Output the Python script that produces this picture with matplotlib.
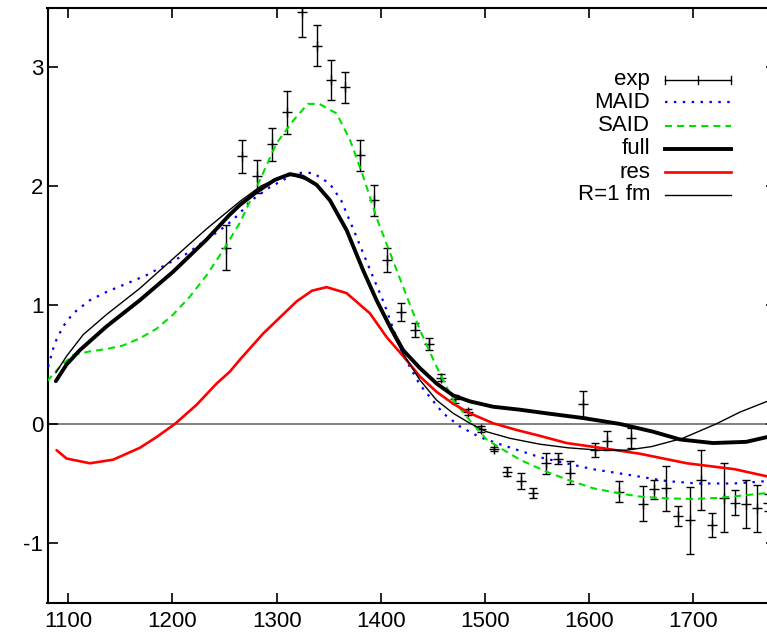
import matplotlib
matplotlib.use("Agg")
import matplotlib.pyplot as plt

plt.rcParams['font.family'] = ['Liberation Sans', 'DejaVu Sans']

# experimental points
exp_x = [1251.3, 1266.4, 1281.1, 1295.2, 1309.9, 1324.0, 1338.4, 1352.4, 1365.9, 1379.7,
         1393.2, 1406.2, 1419.4, 1432.9, 1446.0, 1457.8, 1471.3, 1483.5, 1496.3, 1509.0,
         1520.9, 1534.4, 1545.9, 1558.4, 1570.2, 1581.7, 1594.0, 1606.1, 1617.0, 1628.8,
         1640.3, 1651.6, 1662.7, 1674.3, 1685.8, 1696.7, 1707.6, 1718.4, 1729.7, 1740.5,
         1750.8, 1761.4, 1772.0]
exp_y = [1.48, 2.25, 2.08, 2.35, 2.62, 3.46, 3.18, 2.89, 2.83, 2.26,
         1.88, 1.38, 0.94, 0.79, 0.67, 0.39, 0.21, 0.10, -0.04, -0.21,
         -0.40, -0.48, -0.58, -0.33, -0.29, -0.41, 0.17, -0.22, -0.14, -0.57,
         -0.12, -0.67, -0.55, -0.54, -0.77, -0.81, -0.47, -0.85, -0.62, -0.66,
         -0.67, -0.71, -0.66]
exp_err = [0.19, 0.14, 0.14, 0.14, 0.18, 0.21, 0.17, 0.17, 0.13, 0.13,
           0.13, 0.10, 0.076, 0.056, 0.05, 0.03, 0.03, 0.025, 0.025, 0.02,
           0.036, 0.07, 0.04, 0.09, 0.05, 0.095, 0.11, 0.06, 0.08, 0.087,
           0.084, 0.147, 0.077, 0.19, 0.084, 0.28, 0.25, 0.10, 0.29, 0.107,
           0.20, 0.20, 0.07]

maid_x = [1080.6, 1087, 1095, 1104.6, 1120.7, 1136.7, 1156, 1175, 1194, 1213.5,
          1232.8, 1252, 1264.7, 1274.3, 1293.5, 1319, 1335, 1351, 1362, 1374,
          1390, 1403, 1412, 1421.6, 1437.6, 1460, 1476, 1495, 1514.5, 1553,
          1578, 1604, 1640, 1675, 1705, 1739, 1771]
maid_y = [0.48, 0.68, 0.82, 0.93, 1.04, 1.11, 1.18, 1.25, 1.34, 1.43,
          1.55, 1.67, 1.77, 1.87, 1.99, 2.11, 2.11, 2.02, 1.88, 1.63,
          1.29, 1.02, 0.80, 0.58, 0.33, 0.09, -0.02, -0.11, -0.17, -0.28,
          -0.33, -0.38, -0.43, -0.48, -0.50, -0.50, -0.48]

said_x = [1079.6, 1091.8, 1104.6, 1120.7, 1136.7, 1152.6, 1168.7, 1184.7, 1200.7, 1216.7,
          1232.8, 1248.7, 1264.7, 1284, 1300, 1316, 1330, 1341, 1357.6, 1370.4,
          1383.2, 1397, 1421.6, 1437.6, 1453.7, 1469.6, 1485.7, 1501.7, 1514.5, 1533.7,
          1559, 1580, 1604, 1627, 1649, 1675, 1700, 1726, 1771]
said_y = [0.36, 0.48, 0.58, 0.61, 0.63, 0.66, 0.72, 0.80, 0.92, 1.07,
          1.25, 1.46, 1.69, 2.05, 2.36, 2.55, 2.69, 2.69, 2.61, 2.39,
          2.08, 1.71, 1.15, 0.79, 0.48, 0.20, 0.03, -0.13, -0.20, -0.30,
          -0.40, -0.47, -0.54, -0.58, -0.61, -0.625, -0.63, -0.62, -0.58]

full_x = [1088, 1098.3, 1111, 1136.7, 1168.7, 1200.7, 1232.8, 1255.1, 1264.7, 1280.8,
          1298, 1312.8, 1325, 1338.4, 1351.2, 1367.2, 1383.2, 1396, 1408.8, 1421.6,
          1437.6, 1453.7, 1469.6, 1485.7, 1508, 1533.7, 1559, 1594.5, 1630, 1661.7,
          1687.5, 1719, 1751, 1771]
full_y = [0.36, 0.50, 0.62, 0.82, 1.04, 1.28, 1.55, 1.76, 1.84, 1.95,
          2.05, 2.10, 2.08, 2.01, 1.88, 1.63, 1.29, 1.04, 0.82, 0.62,
          0.47, 0.34, 0.24, 0.19, 0.145, 0.12, 0.09, 0.05, 0.0, -0.065,
          -0.13, -0.16, -0.15, -0.11]

res_x = [1088.7, 1098.3, 1120.7, 1143, 1168.7, 1184.7, 1202.3, 1223, 1242.4, 1255.1,
         1264.7, 1287.1, 1319.2, 1334, 1348, 1367.2, 1389.6, 1405.7, 1421.6, 1437.6,
         1453.7, 1469.6, 1485.7, 1508, 1530.5, 1553, 1578.5, 1610.6, 1649, 1694,
         1740, 1771]
res_y = [-0.22, -0.29, -0.33, -0.30, -0.20, -0.11, 0.00, 0.16, 0.34, 0.44,
         0.54, 0.76, 1.03, 1.12, 1.15, 1.10, 0.93, 0.73, 0.57, 0.40,
         0.27, 0.17, 0.09, 0.006, -0.05, -0.10, -0.16, -0.20, -0.25, -0.33,
         -0.38, -0.44]

r1_x = [1088, 1098.3, 1114.2, 1136.7, 1168.7, 1200.7, 1232.8, 1255, 1264.7, 1285,
        1305, 1315, 1330, 1338.4, 1351.2, 1367.2, 1383.2, 1396, 1408.8, 1421.6,
        1437.6, 1453.7, 1469.6, 1485.7, 1501.7, 1524, 1553, 1580, 1610, 1636,
        1660, 1690, 1722, 1745, 1771]
r1_y = [0.43, 0.57, 0.75, 0.92, 1.14, 1.39, 1.64, 1.80, 1.87, 2.00,
        2.08, 2.09, 2.05, 2.01, 1.88, 1.63, 1.29, 1.03, 0.80, 0.59,
        0.37, 0.20, 0.09, 0.006, -0.065, -0.12, -0.17, -0.20, -0.22, -0.22,
        -0.19, -0.12, 0.0, 0.10, 0.19]

xticks = [1100, 1200, 1300, 1400, 1500, 1600, 1700]
yticks = [-1, 0, 1, 2, 3]

W, H = 767, 640
fig = plt.figure(figsize=(W / 100, H / 100), dpi=100)
left_px, right_px, top_px, bot_px = 47.5, 776.4, 7.5, 602.5
ax = fig.add_axes([left_px / W, (H - bot_px) / H, (right_px - left_px) / W, (bot_px - top_px) / H])

ax.set_xlim(1080, 1780)
ax.set_ylim(-1.5, 3.5)

ax.axhline(0, color='#808080', lw=1.4, zorder=1)

ax.errorbar(exp_x, exp_y, yerr=exp_err, fmt='+', color='black', ms=7, mew=1.0,
            elinewidth=1.0, capsize=3.2, capthick=1.0, zorder=2)
kw_line = dict(solid_joinstyle='round', solid_capstyle='round')
ax.plot(maid_x, maid_y, color='#0000ff', lw=1.6, linestyle=(0, (1.1, 2.9)), zorder=3)
ax.plot(said_x, said_y, color='#00e000', lw=1.5, linestyle=(0, (3.4, 2.4)), zorder=3)
ax.plot(full_x, full_y, color='black', lw=2.8, zorder=4, **kw_line)
ax.plot(res_x, res_y, color='#ff0000', lw=1.9, zorder=4, **kw_line)
ax.plot(r1_x, r1_y, color='black', lw=1.0, zorder=5, **kw_line)

ax.set_xticks(xticks)
ax.set_yticks(yticks)
ax.set_xticklabels([str(t) for t in xticks])
ax.set_yticklabels([str(t) for t in yticks])
ax.tick_params(direction='in', length=7, width=1.2, top=True, right=True,
               labelsize=16, colors='black')
ax.tick_params(axis='x', pad=6)
ax.tick_params(axis='y', pad=3)
for s in ax.spines.values():
    s.set_linewidth(1.5)

# legend (gnuplot style: right-aligned labels, samples on the right)
labels = ['exp', 'MAID', 'SAID', 'full', 'res', 'R=1 fm']
rows = [0.8782, 0.8407, 0.8013, 0.7627, 0.7235, 0.6849]
tx, s0, s1 = 0.8266, 0.8472, 0.9377
styles = [None,
          dict(color='#0000ff', lw=1.6, linestyle=(0, (1.1, 2.9))),
          dict(color='#00e000', lw=1.5, linestyle=(0, (3.4, 2.4))),
          dict(color='black', lw=2.8),
          dict(color='#ff0000', lw=1.9),
          dict(color='black', lw=1.0)]
for lab, yr, st in zip(labels, rows, styles):
    ax.text(tx, yr, lab, transform=ax.transAxes, ha='right', va='center', fontsize=16)
    if st is None:
        ax.plot([s0, s1], [yr, yr], transform=ax.transAxes, color='black', lw=1.0)
        dy = 0.007
        for xx in (s0, (s0 + s1) / 2, s1):
            ax.plot([xx, xx], [yr - dy, yr + dy], transform=ax.transAxes, color='black', lw=1.0)
    else:
        ax.plot([s0, s1], [yr, yr], transform=ax.transAxes, **st)

fig.savefig('out.png', dpi=100)
